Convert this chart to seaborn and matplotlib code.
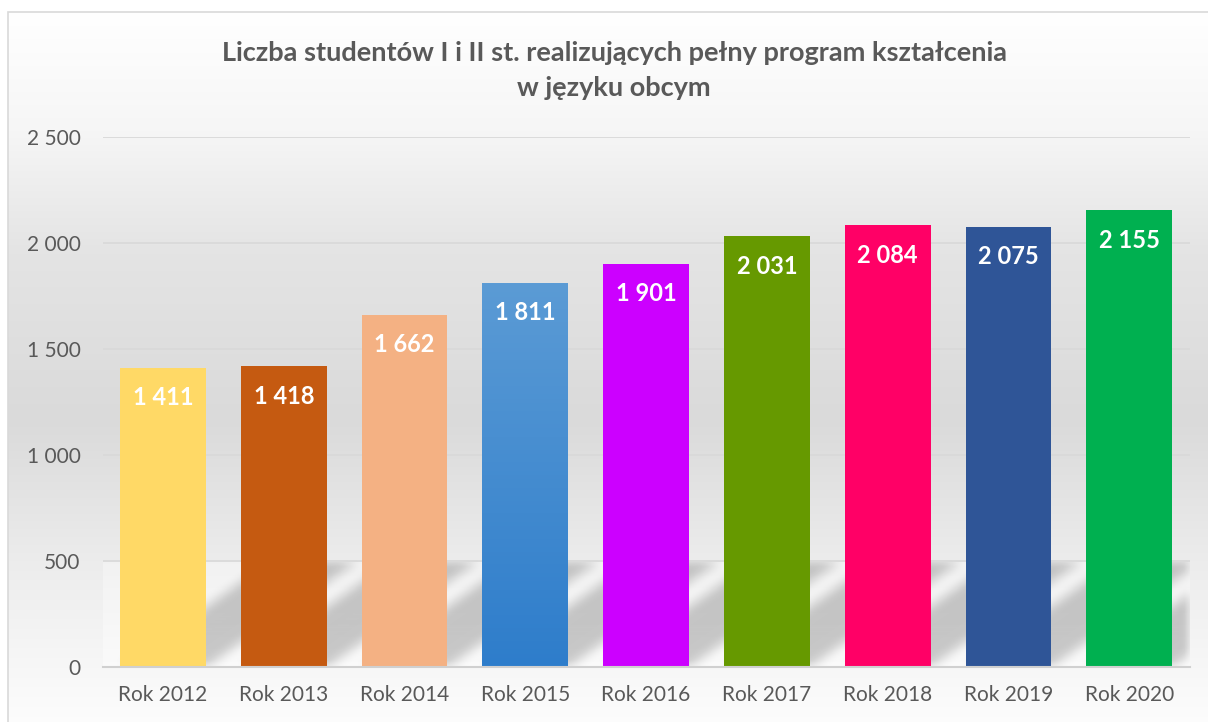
import numpy as np
import matplotlib
matplotlib.use("Agg")
import matplotlib.pyplot as plt
import seaborn as sns
from matplotlib.patches import Rectangle
from matplotlib.colors import to_rgb

# data
years = ["Rok 2012", "Rok 2013", "Rok 2014", "Rok 2015", "Rok 2016",
         "Rok 2017", "Rok 2018", "Rok 2019", "Rok 2020"]
students = [1411, 1418, 1662, 1811, 1901, 2031, 2084, 2075, 2155]
bar_colors = ["#FFD966", "#C55A11", "#F4B183", "#5B9BD5", "#CC00FF",
              "#669900", "#FF0066", "#2F5597", "#00B050"]
y_ticks = [0, 500, 1000, 1500, 2000, 2500]
title = ("Liczba studentów I i II st. realizujących pełny program kształcenia\n"
         "w języku obcym")


def fmt(v):
    return f"{v:,}".replace(",", " ")


sns.set_style("white")
plt.rcParams["font.family"] = ["Lato", "DejaVu Sans"]

W, H = 1208, 722
fig = plt.figure(figsize=(W / 100, H / 100), dpi=100)
fig.patch.set_facecolor("white")

# chart-area background: vertical grey gradient inside the frame
bg = fig.add_axes([8 / W, 0, 1 - 8 / W, 1 - 12 / H])
rows = np.linspace(12, H, 400)
shade = np.interp(rows, [12, 130, 250, 420, 560, 667, 722],
                  [1.0, 0.965, 0.895, 0.855, 0.925, 0.968, 0.99])
bg.imshow(np.repeat(shade[:, None, None], 3, axis=2), aspect="auto",
          extent=(0, 1, 0, 1))
bg.axis("off")
fig.add_artist(Rectangle((8 / W, -0.02), 1.0, 1 - 12 / H + 0.02,
                         transform=fig.transFigure, fill=False,
                         edgecolor="#d9d9d9", lw=1.2))

# plot area
ax = fig.add_axes([102.6 / W, 1 - 667 / H, 1087 / W, 530 / H])
ax.patch.set_alpha(0)

sns.barplot(x=years, y=students, hue=years, palette=bar_colors,
            saturation=1, width=0.71, linewidth=0, legend=False,
            ax=ax, zorder=2)

n = len(years)
floor_top = y_ticks[1]

# light "floor" under the 500 line
floor = np.linspace(0.982, 0.948, 100)
ax.imshow(np.repeat(floor[:, None, None], 3, axis=2), origin="lower",
          extent=(-0.5, n - 0.5, 0, floor_top), aspect="auto", zorder=0.1)

# soft slanted shadows cast by each bar onto the floor
bars = [c[0] for c in ax.containers]
nx, ny = 1087, 106
xs = np.linspace(-0.5, n - 0.5, nx)
ys = np.linspace(0, floor_top, ny)
X, Y = np.meshgrid(xs, ys)
slope = 0.7 * (nx / n) / (ny / floor_top)   # data-y per x-unit
mask = np.zeros_like(X)
for b in bars:
    u = X - Y / slope
    mask[(u >= b.get_x()) & (u <= b.get_x() + b.get_width())] = 1.0


def box_blur(a, r, axis):
    pad = [(0, 0), (0, 0)]
    pad[axis] = (r + 1, r)
    c = np.cumsum(np.pad(a, pad), axis=axis)
    if axis == 0:
        return (c[2 * r + 1:] - c[:-2 * r - 1]) / (2 * r + 1)
    return (c[:, 2 * r + 1:] - c[:, :-2 * r - 1]) / (2 * r + 1)


for _ in range(2):
    mask = box_blur(mask, 6, 0)
    mask = box_blur(mask, 5, 1)
shadow = np.zeros((ny, nx, 4))
shadow[..., 3] = 0.2 * mask
ax.imshow(shadow, origin="lower", extent=(-0.5, n - 0.5, 0, floor_top),
          aspect="auto", zorder=0.2, interpolation="bilinear")

# gradient fill on the 2015 bar
b15 = bars[3]
t = np.linspace(0, 1, 256)[:, None, None]
top, bottom = np.array(to_rgb("#5B9BD5")), np.array(to_rgb("#2E7DCB"))
grad = bottom + (top - bottom) * t
im = ax.imshow(grad, origin="lower", aspect="auto", zorder=2.1,
               extent=(b15.get_x(), b15.get_x() + b15.get_width(), 0,
                       b15.get_height()))
im.set_clip_path(b15)

# value labels inside the bars
for b, v in zip(bars, students):
    ax.annotate(fmt(v), (b.get_x() + b.get_width() / 2, v),
                xytext=(0, -21.5), textcoords="offset points",
                ha="center", va="center", color="white",
                fontsize=17, fontweight="bold", zorder=3)

ax.set_xlim(-0.5, n - 0.5)
ax.set_ylim(0, y_ticks[-1])
ax.set_yticks(y_ticks)
ax.set_yticklabels([fmt(t) for t in y_ticks])
ax.set_xlabel("")
ax.set_ylabel("")
ax.tick_params(axis="both", length=0, labelsize=15, colors="#595959")
ax.tick_params(axis="y", pad=16)
ax.tick_params(axis="x", pad=13)
ax.yaxis.grid(True, color="#d9d9d9", lw=1.3)
ax.xaxis.grid(False)
ax.set_axisbelow(True)
for side in ["top", "right", "left"]:
    ax.spines[side].set_visible(False)
ax.spines["bottom"].set_color("#d0d0d0")
ax.spines["bottom"].set_linewidth(1.5)

fig.text(614 / W, 1 - 70.5 / H, title, ha="center", va="center",
         fontsize=19.5, fontweight="bold", color="#595959", linespacing=1.58)

fig.savefig("out.png", dpi=100)
